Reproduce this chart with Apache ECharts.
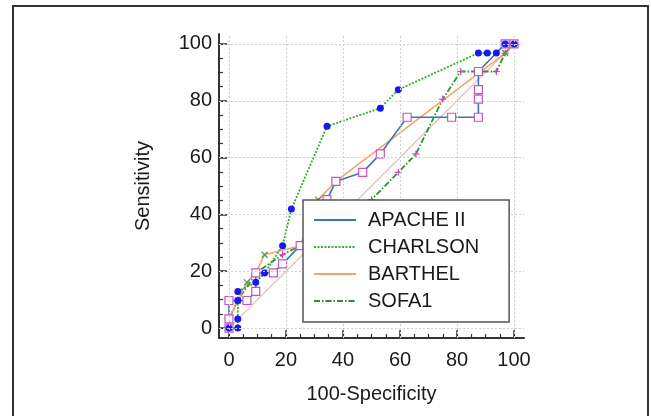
<!DOCTYPE html>
<html>
<head>
<meta charset="utf-8">
<script src="https://cdn.jsdelivr.net/npm/echarts@6/dist/echarts.min.js"></script>
<style>
html,body{margin:0;padding:0;background:#fff;}
#chart{width:651px;height:416px;}
</style>
</head>
<body>
<div id="chart"></div>
<script>
// ---- data ----
var seriesNames = ['APACHE II', 'CHARLSON', 'BARTHEL', 'SOFA1'];

var apacheX = [0, 0, 0, 6.3, 9.4, 9.4, 15.6, 18.8, 25, 31.3, 34.4, 37.5, 46.9, 53.1, 62.5, 78.1, 87.5, 87.5, 87.5, 87.5, 96.9, 100];
var apacheY = [0, 3.2, 9.7, 9.7, 12.9, 19.4, 19.4, 22.6, 29.0, 38.7, 45.2, 51.6, 54.8, 61.3, 74.2, 74.2, 74.2, 80.6, 83.9, 90.3, 100, 100];

var charlsonX = [0, 3.1, 3.1, 3.1, 3.1, 9.4, 12.5, 18.8, 21.9, 34.4, 53.1, 59.4, 87.5, 90.6, 93.8, 96.9, 100];
var charlsonY = [0, 0, 3.2, 9.7, 12.9, 16.1, 19.4, 29.0, 41.9, 71.0, 77.4, 83.9, 96.8, 96.8, 96.8, 100, 100];

var barthelX = [0, 0, 3.1, 6.3, 9.4, 12.5, 25, 31.3, 37.5, 96.9, 100];
var barthelY = [0, 3.2, 9.7, 16.1, 19.4, 25.8, 29.0, 45.2, 51.6, 96.8, 100];

var sofaX = [0, 0, 3.1, 9.4, 18.8, 25, 37.5, 50, 59.4, 65.6, 75, 81.3, 93.8, 96.9, 100];
var sofaY = [0, 3.2, 9.7, 19.4, 25.8, 29.0, 35.5, 45.2, 54.8, 61.3, 80.6, 90.3, 90.3, 96.8, 100];

var diagX = [0, 100];
var diagY = [0, 100];

var majorTicks = [0, 20, 40, 60, 80, 100];
var minorTicks = [0, 5, 10, 15, 20, 25, 30, 35, 40, 45, 50, 55, 60, 65, 70, 75, 80, 85, 90, 95, 100];

var xName = '100-Specificity';
var yName = 'Sensitivity';

// ---- build ----
function pairs(xs, ys) { return xs.map(function (x, i) { return [x, ys[i]]; }); }

var FONT = "'Liberation Sans', Arial, sans-serif";
var AX_MIN = -3.5, AX_MAX = 103.5;
var crossPath = 'path://M0,0L10,10M10,0L0,10';
var plusPath = 'path://M5,0L5,10M0,5L10,5';

function mainAxis(isX) {
  return {
    type: 'value', min: AX_MIN, max: AX_MAX,
    name: isX ? xName : yName,
    nameLocation: 'middle',
    nameGap: isX ? 46 : 66,
    nameTextStyle: { fontFamily: FONT, fontSize: 20, color: '#1a1a1a' },
    axisLine: { show: true, onZero: false, lineStyle: { color: '#333', width: 2 } },
    axisTick: { show: true, inside: true, length: 8, customValues: majorTicks, lineStyle: { color: '#333', width: 1.5 } },
    axisLabel: { show: true, customValues: majorTicks, fontFamily: FONT, fontSize: 20, color: '#1a1a1a', margin: isX ? 12 : 7 },
    splitLine: { show: false }
  };
}
function minorAxis(isX) {
  return {
    type: 'value', min: AX_MIN, max: AX_MAX,
    position: isX ? 'bottom' : 'left',
    axisLine: { show: false, onZero: false },
    axisTick: { show: true, inside: true, length: 4, customValues: minorTicks, lineStyle: { color: '#333', width: 1.2 } },
    axisLabel: { show: false },
    splitLine: { show: false }
  };
}

var gridLineStyle = { color: '#cfcfcf', type: [2, 2], width: 1 };
var gridLines = [];
majorTicks.forEach(function (v) { gridLines.push({ xAxis: v }); gridLines.push({ yAxis: v }); });

var option = {
  animation: false,
  backgroundColor: '#fff',
  grid: { left: 219, right: 127, top: 34, bottom: 78 },
  xAxis: [mainAxis(true), minorAxis(true)],
  yAxis: [mainAxis(false), minorAxis(false)],
  legend: {
    z: 20, zlevel: 0,
    left: 303, top: 200, orient: 'vertical',
    data: seriesNames,
    itemWidth: 42, itemHeight: 14, itemGap: 7,
    padding: [10, 30, 11, 10],
    backgroundColor: '#fff', borderColor: '#555', borderWidth: 1.5, borderRadius: 0,
    itemStyle: { opacity: 0 },
    textStyle: { fontFamily: FONT, fontSize: 20, color: '#1a1a1a', padding: [0, 0, 0, 7] },
    selectedMode: false
  },
  graphic: [{
    type: 'rect', silent: true, z: 100,
    shape: { x: 13, y: 6, width: 635, height: 420 },
    style: { fill: 'none', stroke: '#333', lineWidth: 2 }
  }],
  series: [
    {
      name: 'diag', type: 'line', z: 2, data: pairs(diagX, diagY), symbol: 'none', silent: true,
      lineStyle: { color: '#dcbcb2', width: 1.2 },
      markLine: { silent: true, symbol: 'none', label: { show: false }, lineStyle: gridLineStyle, data: gridLines, animation: false }
    },
    {
      name: 'SOFA1', type: 'line', z: 2, data: pairs(sofaX, sofaY),
      symbol: plusPath, symbolSize: 7,
      itemStyle: { color: 'transparent', borderColor: '#d040d0', borderWidth: 1.2 },
      lineStyle: { color: '#2d8f2d', width: 1.8, type: [6, 2, 1.5, 2] }
    },
    {
      name: 'BARTHEL', type: 'line', z: 2, data: pairs(barthelX, barthelY),
      symbol: crossPath, symbolSize: 6,
      itemStyle: { color: 'transparent', borderColor: '#4f9a4f', borderWidth: 1.2 },
      lineStyle: { color: '#f2a46e', width: 1.6 }
    },
    {
      name: 'APACHE II', type: 'line', z: 2, data: pairs(apacheX, apacheY),
      symbol: 'rect', symbolSize: 8,
      itemStyle: { color: '#fff', borderColor: '#c455c4', borderWidth: 1.2 },
      lineStyle: { color: '#3b74b5', width: 1.6 }
    },
    {
      name: 'CHARLSON', type: 'line', z: 2, data: pairs(charlsonX, charlsonY),
      symbol: 'circle', symbolSize: 7,
      itemStyle: { color: '#1818f0', borderWidth: 0 },
      lineStyle: { color: '#2fae2f', width: 1.8, type: [2, 1.5] }
    }
  ]
};

var chart = echarts.init(document.getElementById('chart'), null, { renderer: 'canvas' });
chart.setOption(option);
</script>
</body>
</html>
